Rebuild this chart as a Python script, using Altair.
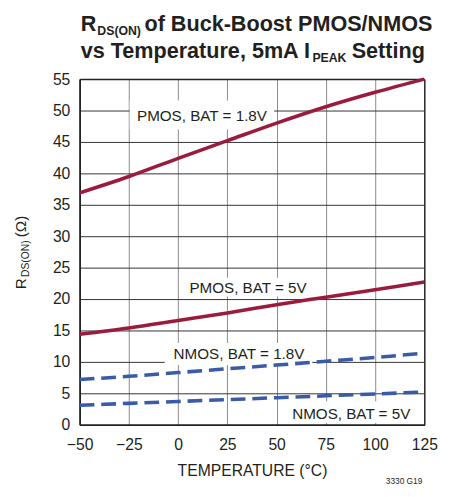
import altair as alt
import pandas as pd

# ---- data ----
temps = [-50, -25, 0, 25, 50, 75, 100, 125]
pmos_18 = [36.9, 39.5, 42.4, 45.2, 48.0, 50.6, 52.9, 55.0]
pmos_5 = [14.4, 15.4, 16.6, 17.8, 19.1, 20.3, 21.5, 22.7]
nmos_18 = [7.2, 7.7, 8.3, 8.9, 9.5, 10.1, 10.7, 11.4]
nmos_5 = [3.1, 3.4, 3.7, 4.0, 4.3, 4.6, 4.9, 5.2]

series_names = ["PMOS, BAT = 1.8V", "PMOS, BAT = 5V", "NMOS, BAT = 1.8V", "NMOS, BAT = 5V"]
series_vals = [pmos_18, pmos_5, nmos_18, nmos_5]
series_type = ["PMOS", "PMOS", "NMOS", "NMOS"]

x_ticks = [-50, -25, 0, 25, 50, 75, 100, 125]
y_ticks = [0, 5, 10, 15, 20, 25, 30, 35, 40, 45, 50, 55]

# annotation labels (data coordinates) and their white boxes
lab_text = series_names
lab_x = [12.1, 35.5, 30.9, 87.9]
lab_y = [49.1, 21.8, 11.3, 1.7]
box_x1 = [-24.6, 1.8, -6.8, 54.2]
box_x2 = [48.7, 69.1, 68.1, 123.0]
box_y1 = [47.0, 20.4, 9.5, 0.3]
box_y2 = [51.6, 23.4, 13.0, 3.75]

rows = []
for name, vals, typ in zip(series_names, series_vals, series_type):
    for t, v in zip(temps, vals):
        rows.append({"temp": t, "r": v, "series": name, "type": typ})
df = pd.DataFrame(rows)
labels = pd.DataFrame({"text": lab_text, "x": lab_x, "y": lab_y,
                       "x1": box_x1, "x2": box_x2, "y1": box_y1, "y2": box_y2})

FONT = "Liberation Sans, Arial, sans-serif"
TXT = "#231f20"
W, H = 351, 352

xscale = alt.Scale(domain=[-50, 125], nice=False, zero=False)
yscale = alt.Scale(domain=[0, 55], nice=False, zero=False)

edge_x = "datum.value == -50 || datum.value == 125"
edge_y = "datum.value == 0 || datum.value == 55"

xaxis = alt.Axis(values=x_ticks, grid=True, ticks=False, domain=True,
                 domainColor="#222", domainWidth=1.5, labelOverlap=False, labelFlush=False,
                 gridColor={"condition": {"test": edge_x, "value": "#222"}, "value": "#8a8a8a"},
                 gridWidth={"condition": {"test": edge_x, "value": 1.5}, "value": 1},
                 labelFont=FONT, labelFontSize=16, labelColor=TXT, labelPadding=12,
                 title="TEMPERATURE (°C)", titleFont=FONT, titleFontSize=16,
                 titleFontWeight="normal", titleColor=TXT, titleBaseline="alphabetic",
                 titleY=52)
yaxis = alt.Axis(values=y_ticks, grid=True, ticks=False, domain=True,
                 domainColor="#222", domainWidth=1.5, labelOverlap=False, labelFlush=False,
                 gridColor={"condition": {"test": edge_y, "value": "#222"}, "value": "#333"},
                 gridWidth={"condition": {"test": edge_y, "value": 1.5}, "value": 1},
                 labelFont=FONT, labelFontSize=16, labelColor=TXT, labelPadding=10,
                 title=None)

base_one = pd.DataFrame({"a": [1]})

boxes = alt.Chart(labels).mark_rect(fill="white", stroke=None).encode(
    x=alt.X("x1:Q", scale=xscale, axis=xaxis),
    x2="x2:Q",
    y=alt.Y("y1:Q", scale=yscale, axis=yaxis),
    y2="y2:Q",
)

pm = alt.Chart(df).transform_filter("datum.type == 'PMOS'").mark_line(
    color="#9b1b3d", strokeWidth=3.6, interpolate="monotone", strokeCap="butt"
).encode(
    x=alt.X("temp:Q", scale=xscale, axis=xaxis),
    y=alt.Y("r:Q", scale=yscale, axis=yaxis),
    detail="series:N",
)
nm = alt.Chart(df).transform_filter("datum.type == 'NMOS'").mark_line(
    color="#3a5ba8", strokeWidth=3.6, interpolate="monotone", strokeDash=[15, 7],
    strokeCap="butt"
).encode(
    x=alt.X("temp:Q", scale=xscale, axis=xaxis),
    y=alt.Y("r:Q", scale=yscale, axis=yaxis),
    detail="series:N",
)

labtext = alt.Chart(labels).mark_text(
    font=FONT, fontSize=15.5, color=TXT, baseline="middle", align="center"
).encode(
    x=alt.X("x:Q", scale=xscale, axis=xaxis),
    y=alt.Y("y:Q", scale=yscale, axis=yaxis),
    text="text:N",
)

def txt(s, x, y, size, bold=False, align="left", angle=0, color=TXT):
    kw = dict(font=FONT, fontSize=size, color=color, align=align, baseline="alphabetic")
    if bold:
        kw["fontWeight"] = "bold"
    if angle:
        kw["angle"] = angle
    return alt.Chart(base_one).mark_text(**kw).encode(
        x=alt.value(x), y=alt.value(y), text=alt.value(s))

# title (with subscripts) - frame coordinates relative to plot origin
title_parts = [
    txt("R", 1, -49.3, 22, bold=True),
    txt("DS(ON)", 18, -45, 12.5, bold=True),
    txt("of Buck-Boost PMOS/NMOS", 66, -49.3, 22, bold=True),
    txt("vs Temperature, 5mA I", 1, -22, 22, bold=True),
    txt("PEAK", 237, -17.5, 12.5, bold=True),
    txt("Setting", 277, -22, 22, bold=True),
]
# y-axis title (rotated, with subscript)
ytitle_parts = [
    txt("R", -54.3, 214, 15.5, angle=270),
    txt("DS(ON)", -52, 201.5, 10.5, angle=270),
    txt("(Ω)", -54.3, 161, 15.5, angle=270),
]
code = txt("3330 G19", 349, 412, 8.5, align="right")

chart = alt.layer(boxes, pm, nm, labtext, *title_parts, *ytitle_parts, code).properties(
    width=W, height=H,
    autosize=alt.AutoSizeParams(type="none"),
    padding={"left": 73, "top": 68, "right": 17, "bottom": 60},
    background="white",
).configure_view(stroke=None)

chart.save("out.html", embed_options={"renderer": "svg", "actions": False})
